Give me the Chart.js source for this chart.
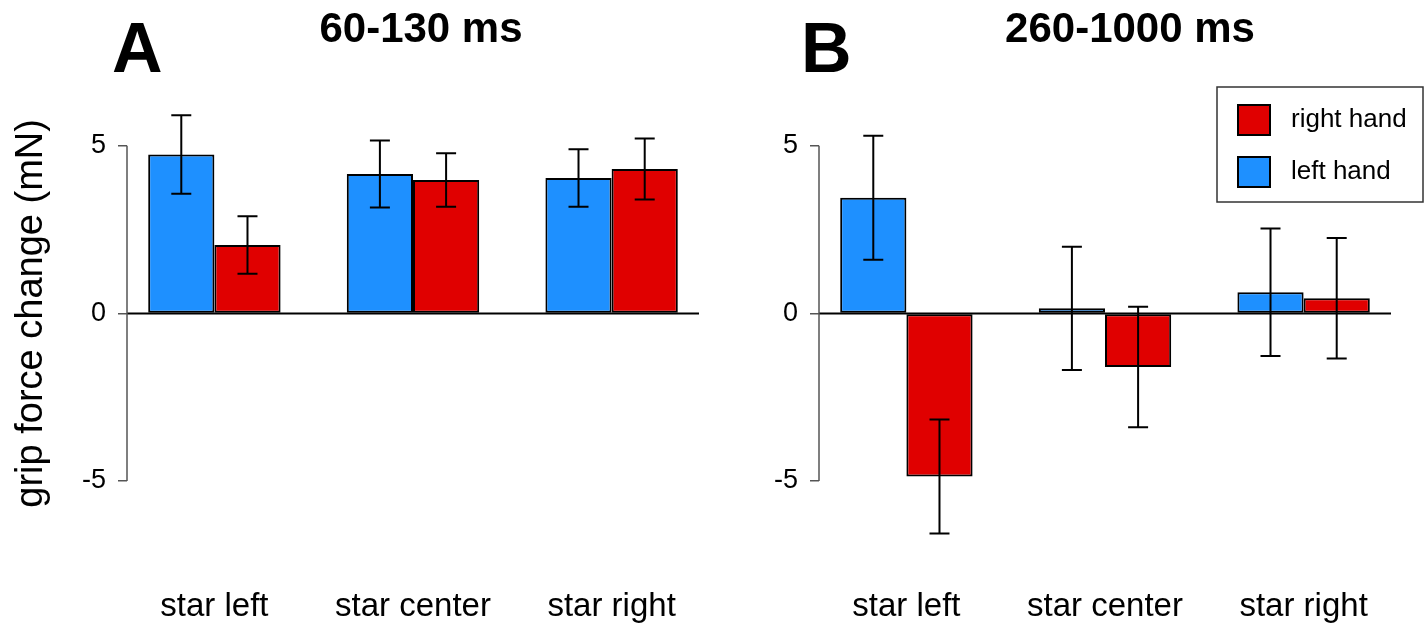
<!DOCTYPE html>
<html><head><meta charset="utf-8">
<script src="https://cdn.jsdelivr.net/npm/chart.js@4"></script>
<style>
html,body{margin:0;padding:0;background:#fff;width:1427px;height:623px;overflow:hidden}
#wrap{position:relative;width:1427px;height:623px;background:#fff}
canvas{position:absolute;top:0}
#cA{left:0}
#cB{left:713px}
</style></head><body>
<div id="wrap"><canvas id="cA" width="713" height="623"></canvas><canvas id="cB" width="714" height="623"></canvas></div>
<script>
// ---- data ----
const categories = ['star left', 'star center', 'star right'];
const seriesNames = ['left hand', 'right hand'];
const titleA = '60-130 ms';
const titleB = '260-1000 ms';
const yLabel = 'grip force change (mN)';
const yTicks = [-5, 0, 5];

const leftHandA = [4.74, 4.16, 4.04];
const leftHandErrA = [1.17, 1.0, 0.86];
const rightHandA = [2.04, 3.98, 4.31];
const rightHandErrA = [0.86, 0.8, 0.91];

const leftHandB = [3.45, 0.15, 0.63];
const leftHandErrB = [1.85, 1.84, 1.9];
const rightHandB = [-4.87, -1.6, 0.45];
const rightHandErrB = [1.7, 1.8, 1.8];

// ---- styling ----
const BLUE = '#1e90ff';
const RED = '#e00000';
Chart.defaults.font.family = "'Liberation Sans', Arial, Helvetica, sans-serif";
Chart.defaults.color = '#000';

const decor = {
  id: 'decor',
  afterDatasetsDraw(chart, args, opts) {
    const ctx = chart.ctx, ys = chart.scales.y, area = chart.chartArea;
    ctx.save();
    // zero line
    const y0 = ys.getPixelForValue(0);
    ctx.strokeStyle = '#000'; ctx.lineWidth = 2;
    ctx.beginPath(); ctx.moveTo(area.left, y0); ctx.lineTo(area.right, y0); ctx.stroke();
    // error bars
    chart.data.datasets.forEach((ds, di) => {
      const meta = chart.getDatasetMeta(di);
      meta.data.forEach((bar, i) => {
        const v = ds.data[i].y, e = ds.errors[i];
        const yt = ys.getPixelForValue(v + e), yb = ys.getPixelForValue(v - e);
        ctx.strokeStyle = '#000'; ctx.lineWidth = 2;
        ctx.beginPath();
        ctx.moveTo(bar.x, yt); ctx.lineTo(bar.x, yb);
        ctx.moveTo(bar.x - 10, yt); ctx.lineTo(bar.x + 10, yt);
        ctx.moveTo(bar.x - 10, yb); ctx.lineTo(bar.x + 10, yb);
        ctx.stroke();
      });
    });
    // y axis line spanning the tick range
    ctx.strokeStyle = '#555'; ctx.lineWidth = 1.5;
    ctx.beginPath();
    ctx.moveTo(area.left, ys.getPixelForValue(yTicks[yTicks.length - 1]));
    ctx.lineTo(area.left, ys.getPixelForValue(yTicks[0]));
    ctx.stroke();
    ctx.restore();
  },
  afterDraw(chart, args, opts) {
    const ctx = chart.ctx;
    ctx.save();
    ctx.fillStyle = '#000';
    ctx.textBaseline = 'alphabetic';
    // panel title
    ctx.font = "bold 42px 'Liberation Sans', Arial, sans-serif";
    ctx.textAlign = 'center';
    ctx.fillText(opts.title, opts.titleX, opts.titleY);
    // panel letter
    ctx.font = "bold 70px 'Liberation Sans', Arial, sans-serif";
    ctx.textAlign = 'left';
    ctx.fillText(opts.letter, opts.letterX, opts.letterY);
    // legend
    if (opts.legend) {
      const L = opts.legend;
      ctx.strokeStyle = '#333'; ctx.lineWidth = 1.5;
      ctx.strokeRect(L.x, L.y, L.w, L.h);
      const items = chart.data.datasets.slice().reverse();
      ctx.font = "26px 'Liberation Sans', Arial, sans-serif";
      ctx.textBaseline = 'middle';
      items.forEach((ds, k) => {
        const cy = L.y + L.first + k * L.step;
        ctx.fillStyle = ds.backgroundColor;
        ctx.fillRect(L.x + 21, cy - 15, 32, 30);
        ctx.strokeStyle = '#000'; ctx.lineWidth = 2;
        ctx.strokeRect(L.x + 21, cy - 15, 32, 30);
        ctx.fillStyle = '#000';
        ctx.fillText(ds.label, L.x + 74, cy);
      });
    }
    ctx.restore();
  }
};

function makeChart(id, leftVals, leftErr, rightVals, rightErr, cfg) {
  const toPts = arr => arr.map((v, i) => ({ x: i + 1, y: v }));
  return new Chart(document.getElementById(id), {
    type: 'bar',
    data: {
      datasets: [
        { label: seriesNames[0], data: toPts(leftVals), errors: leftErr, backgroundColor: BLUE },
        { label: seriesNames[1], data: toPts(rightVals), errors: rightErr, backgroundColor: RED }
      ]
    },
    plugins: [decor],
    options: {
      responsive: false,
      animation: false,
      devicePixelRatio: 1,
      layout: { padding: { top: 62, right: cfg.padRight, bottom: 0, left: 0 } },
      datasets: { bar: { categoryPercentage: 2 / 3, barPercentage: 1, borderWidth: 2, borderColor: '#000', borderSkipped: false } },
      plugins: {
        legend: { display: false },
        tooltip: { enabled: false },
        title: { display: false },
        decor: cfg.decor
      },
      scales: {
        x: {
          type: 'linear', offset: false, min: 0.56, max: 3.44, bounds: 'data',
          grid: { display: false, offset: false }, border: { display: false },
          afterBuildTicks: s => { s.ticks = categories.map((c, i) => ({ value: i + 1 })); },
          afterFit: s => { s.height = 58.25; },
          ticks: { callback: (v, i) => categories[i], font: { size: 33 }, color: '#000', padding: 14, autoSkip: false, maxRotation: 0 }
        },
        y: {
          min: -7.5, max: 7.5, bounds: 'data',
          afterBuildTicks: s => { s.ticks = yTicks.map(v => ({ value: v })); },
          afterFit: s => { s.width = cfg.yWidth; },
          grid: { drawOnChartArea: false, drawTicks: true, tickLength: 9, color: '#555', lineWidth: 1.5 },
          border: { display: false },
          ticks: { font: { size: 27 }, color: '#000', padding: 12 },
          title: { display: cfg.showYTitle, text: yLabel, font: { size: 38 }, color: '#000', padding: { top: 9, bottom: 0 } }
        }
      }
    }
  });
}

makeChart('cA', leftHandA, leftHandErrA, rightHandA, rightHandErrA, {
  padRight: 14, yWidth: 127, showYTitle: true,
  decor: { title: titleA, titleX: 421, titleY: 42, letter: 'A', letterX: 112, letterY: 72 }
});
makeChart('cB', leftHandB, leftHandErrB, rightHandB, rightHandErrB, {
  padRight: 36, yWidth: 106, showYTitle: false,
  decor: { title: titleB, titleX: 417, titleY: 42, letter: 'B', letterX: 88, letterY: 72,
           legend: { x: 504, y: 87, w: 206, h: 115, first: 33, step: 52 } }
});
</script>
</body></html>
